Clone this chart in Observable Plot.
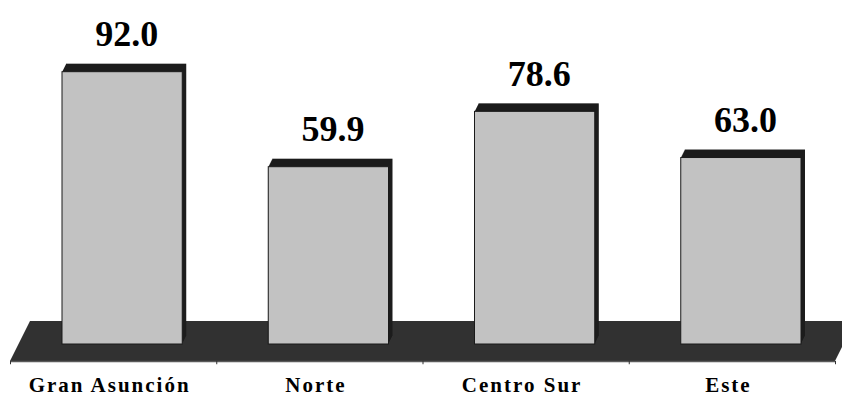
<!DOCTYPE html>
<html>
<head>
<meta charset="utf-8">
<script src="https://cdn.jsdelivr.net/npm/d3@7"></script>
<script src="https://cdn.jsdelivr.net/npm/@observablehq/plot@0.6"></script>
<style>
  html, body { margin: 0; padding: 0; background: #fff; }
  #chart svg { display: block; }
</style>
</head>
<body>
<div id="chart"></div>
<script>
// ---- data ----
const categories = ["Gran Asunción", "Norte", "Centro Sur", "Este"];
const values = [92.0, 59.9, 78.6, 63.0];
const valueLabels = ["92.0", "59.9", "78.6", "63.0"];

const data = categories.map((c, i) => ({i, category: c, value: values[i], label: valueLabels[i]}));

// ---- layout (decoration) ----
const halfBar = 0.2915;                 // half bar width in category units
const floorFront = -5.74, floorBack = 7.77, floorSlant = 0.097;
const bounds = d3.range(-0.5, categories.length, 1);
const depthSteps = d3.range(8, 0, -1);

const marks = [];
// floor
marks.push(Plot.areaX(
  [{v: floorFront, a: -0.5, b: categories.length - 0.5},
   {v: floorBack, a: -0.5 + floorSlant, b: categories.length - 0.5 + floorSlant}],
  {y: "v", x1: "a", x2: "b", fill: "#313131"}
));
marks.push(Plot.ruleY([floorFront], {x1: -0.5, x2: categories.length - 0.5, stroke: "#5a5a5a", strokeWidth: 1.5}));
marks.push(Plot.ruleX(bounds, {x: d => d, y1: floorFront, y2: floorFront - 1.1, stroke: "#333"}));

// bar depth (top + right side)
depthSteps.forEach(k => {
  marks.push(Plot.rectY(data, {
    x1: d => d.i - halfBar, x2: d => d.i + halfBar, y1: 0, y2: "value",
    dx: 9 + k * 0.5, dy: -k, fill: "#1c1c1c"
  }));
});
// bar fronts
marks.push(Plot.rectY(data, {
  x1: d => d.i - halfBar, x2: d => d.i + halfBar, y1: 0, y2: "value",
  dx: 9, fill: "#c2c2c2", stroke: "#1a1a1a", strokeWidth: 1
}));
// value labels
marks.push(Plot.text(data, {
  x: "i", y: "value", text: "label", dx: 13, dy: -26, lineAnchor: "bottom",
  fontFamily: "Liberation Serif", fontWeight: "bold", fontSize: 36, fill: "#000"
}));
// category labels
marks.push(Plot.text(data, {
  x: "i", text: "category", frameAnchor: "bottom", lineAnchor: "bottom", dx: -4, dy: -6,
  fontFamily: "Liberation Serif", fontWeight: "bold", fontSize: 21, fill: "#000"
}));

const chart = Plot.plot({
  width: 842,
  height: 397,
  margin: 0,
  x: {type: "linear", domain: [-0.5, categories.length - 0.5], range: [10, 835], axis: null},
  y: {domain: [0, 100], range: [344, 48], axis: null},
  style: {background: "#fff", overflow: "hidden"},
  marks
});
// widen the category labels like the original's wide serif lettering
d3.select(chart).selectAll("text")
  .filter(function() { return categories.includes(this.textContent); })
  .style("letter-spacing", "2px");
document.getElementById("chart").append(chart);
</script>
</body>
</html>
